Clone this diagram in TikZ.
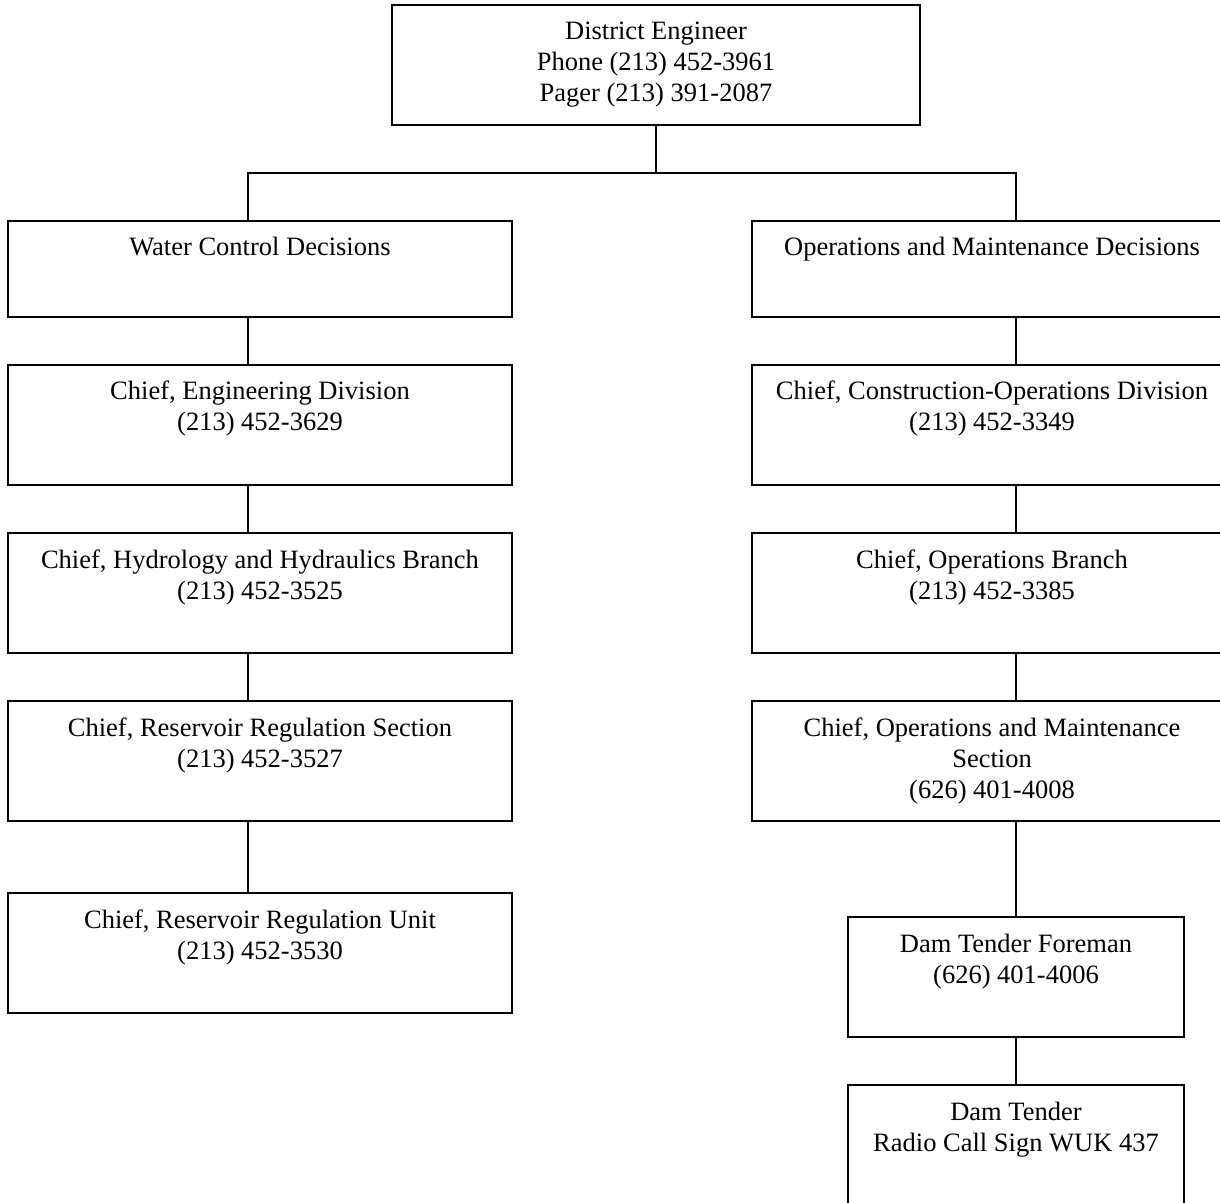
\documentclass[tikz,border=0pt]{standalone}
\usepackage{fontspec}
\setmainfont{Liberation Serif}
\newcommand{\boxtext}[3]{\parbox[c][#2][t]{#1}{\centering\rule{0pt}{17.5pt}#3\par}}
\begin{document}
\begin{tikzpicture}[x=0.5pt,y=-0.5pt,
  orgbox/.style={draw, line width=0.9pt, inner sep=0pt, outer sep=0pt, anchor=north,
    font=\fontsize{13.25pt}{15.5pt}\selectfont},
  link/.style={line width=0.6pt}]
\useasboundingbox (0,0) rectangle (1220,1203);
\fill[white] (0,0) rectangle (1220,1203);

% top
\node[orgbox] (de) at (656,5) {\boxtext{264pt}{60pt}{District Engineer\\Phone (213) 452-3961\\Pager (213) 391-2087}};

% left column
\node[orgbox] (wcd) at (260,221) {\boxtext{252pt}{48pt}{Water Control Decisions}};
\node[orgbox] (ced) at (260,365) {\boxtext{252pt}{60pt}{Chief, Engineering Division\\(213) 452-3629}};
\node[orgbox] (chh) at (260,533) {\boxtext{252pt}{60pt}{Chief, Hydrology and Hydraulics Branch\\(213) 452-3525}};
\node[orgbox] (crs) at (260,701) {\boxtext{252pt}{60pt}{Chief, Reservoir Regulation Section\\(213) 452-3527}};
\node[orgbox] (cru) at (260,893) {\boxtext{252pt}{60pt}{Chief, Reservoir Regulation Unit\\(213) 452-3530}};

% right column
\node[orgbox] (omd) at (992,221) {\boxtext{240pt}{48pt}{Operations and Maintenance Decisions}};
\node[orgbox] (cco) at (992,365) {\boxtext{240pt}{60pt}{Chief, Construction-Operations Division\\(213) 452-3349}};
\node[orgbox] (cob) at (992,533) {\boxtext{240pt}{60pt}{Chief, Operations Branch\\(213) 452-3385}};
\node[orgbox] (coms) at (992,701) {\boxtext{240pt}{60pt}{Chief, Operations and Maintenance\\Section\\(626) 401-4008}};
\node[orgbox] (dtf) at (1016,917) {\boxtext{168pt}{60pt}{Dam Tender Foreman\\(626) 401-4006}};
\node[orgbox] (dt) at (1016,1085) {\boxtext{168pt}{62pt}{Dam Tender\\Radio Call Sign WUK 437}};

% bus
\coordinate (busL) at (248,173);
\coordinate (busR) at (1016,173);

\draw[link] (de.south) -- (de.south |- busL);
\draw[link] (busL |- wcd.north) -- (busL) -- (busR) -- (busR |- omd.north);

\draw[link] (busL |- wcd.south) -- (busL |- ced.north);
\draw[link] (busL |- ced.south) -- (busL |- chh.north);
\draw[link] (busL |- chh.south) -- (busL |- crs.north);
\draw[link] (busL |- crs.south) -- (busL |- cru.north);

\draw[link] (busR |- omd.south) -- (busR |- cco.north);
\draw[link] (busR |- cco.south) -- (busR |- cob.north);
\draw[link] (busR |- cob.south) -- (busR |- coms.north);
\draw[link] (busR |- coms.south) -- (dtf.north);
\draw[link] (dtf.south) -- (dt.north);
\end{tikzpicture}
\end{document}
